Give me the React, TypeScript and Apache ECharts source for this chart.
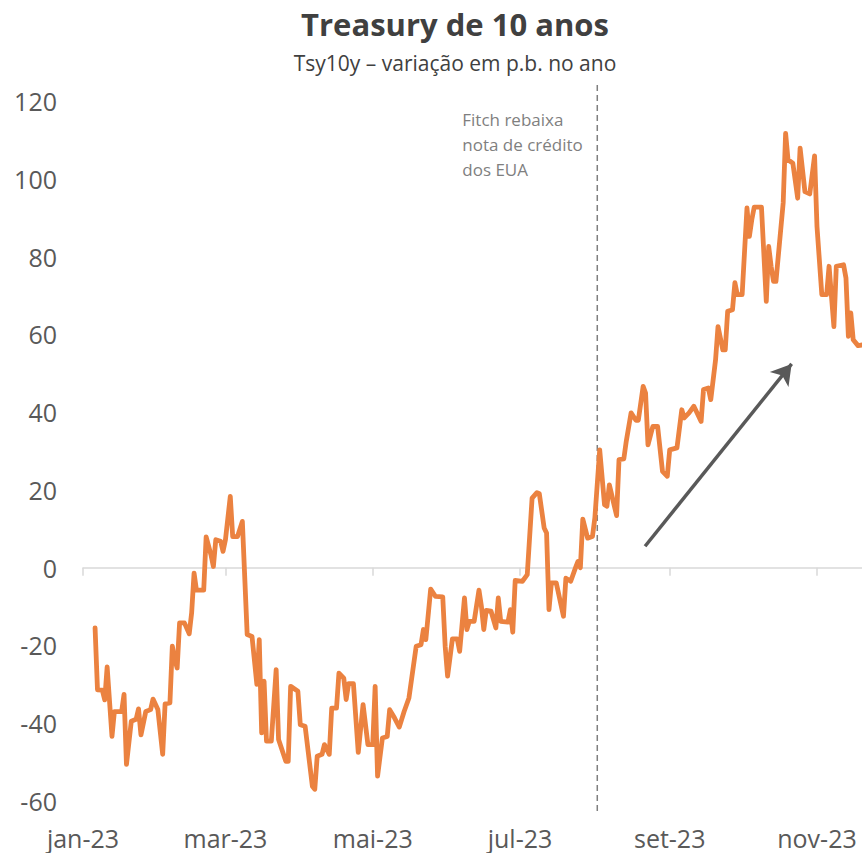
import React, { useEffect, useRef } from 'react';
import * as echarts from 'echarts';

// Tsy10y – variação acumulada no ano (p.b.)
const dates = [
  '2023-01-06', '2023-01-07', '2023-01-09', '2023-01-10', '2023-01-11', '2023-01-13', '2023-01-14', '2023-01-17',
  '2023-01-18', '2023-01-19', '2023-01-21', '2023-01-23', '2023-01-24', '2023-01-25', '2023-01-27', '2023-01-29',
  '2023-01-30', '2023-02-01', '2023-02-03', '2023-02-04', '2023-02-06', '2023-02-07', '2023-02-08', '2023-02-09',
  '2023-02-10', '2023-02-12', '2023-02-14', '2023-02-15', '2023-02-16', '2023-02-17', '2023-02-20', '2023-02-21',
  '2023-02-23', '2023-02-24', '2023-02-25', '2023-02-27', '2023-02-28', '2023-03-01', '2023-03-03', '2023-03-04',
  '2023-03-06', '2023-03-08', '2023-03-10', '2023-03-12', '2023-03-14', '2023-03-15', '2023-03-16', '2023-03-17',
  '2023-03-18', '2023-03-20', '2023-03-22', '2023-03-23', '2023-03-26', '2023-03-27', '2023-03-28', '2023-03-31',
  '2023-04-01', '2023-04-03', '2023-04-06', '2023-04-07', '2023-04-08', '2023-04-10', '2023-04-11', '2023-04-13',
  '2023-04-14', '2023-04-16', '2023-04-17', '2023-04-19', '2023-04-20', '2023-04-21', '2023-04-23', '2023-04-25',
  '2023-04-27', '2023-04-29', '2023-05-01', '2023-05-02', '2023-05-03', '2023-05-05', '2023-05-07', '2023-05-08',
  '2023-05-10', '2023-05-12', '2023-05-14', '2023-05-16', '2023-05-19', '2023-05-21', '2023-05-22', '2023-05-23',
  '2023-05-25', '2023-05-27', '2023-05-30', '2023-05-31', '2023-06-01', '2023-06-03', '2023-06-05', '2023-06-06',
  '2023-06-08', '2023-06-09', '2023-06-10', '2023-06-12', '2023-06-14', '2023-06-15', '2023-06-16', '2023-06-17',
  '2023-06-19', '2023-06-21', '2023-06-22', '2023-06-23', '2023-06-26', '2023-06-27', '2023-06-28', '2023-06-29',
  '2023-07-02', '2023-07-04', '2023-07-06', '2023-07-08', '2023-07-09', '2023-07-11', '2023-07-12', '2023-07-13',
  '2023-07-14', '2023-07-16', '2023-07-19', '2023-07-20', '2023-07-22', '2023-07-24', '2023-07-25', '2023-07-26',
  '2023-07-27', '2023-07-29', '2023-07-31', '2023-08-01', '2023-08-03', '2023-08-05', '2023-08-06', '2023-08-07',
  '2023-08-10', '2023-08-11', '2023-08-13', '2023-08-14', '2023-08-16', '2023-08-18', '2023-08-19', '2023-08-21',
  '2023-08-22', '2023-08-23', '2023-08-25', '2023-08-27', '2023-08-29', '2023-08-31', '2023-09-01', '2023-09-04',
  '2023-09-06', '2023-09-07', '2023-09-09', '2023-09-11', '2023-09-12', '2023-09-14', '2023-09-15', '2023-09-17',
  '2023-09-18', '2023-09-20', '2023-09-21', '2023-09-23', '2023-09-24', '2023-09-25', '2023-09-27', '2023-09-28',
  '2023-09-29', '2023-10-01', '2023-10-03', '2023-10-04', '2023-10-05', '2023-10-06', '2023-10-09', '2023-10-11',
  '2023-10-12', '2023-10-13', '2023-10-14', '2023-10-15', '2023-10-18', '2023-10-19', '2023-10-20', '2023-10-22',
  '2023-10-24', '2023-10-25', '2023-10-27', '2023-10-29', '2023-10-31', '2023-11-01', '2023-11-03', '2023-11-05',
  '2023-11-06', '2023-11-08', '2023-11-09', '2023-11-12', '2023-11-13', '2023-11-14', '2023-11-15', '2023-11-16',
  '2023-11-18', '2023-11-20',
];

const values = [
  -15.5, -31.4, -31.5, -34, -25.5, -43.4, -37, -37,
  -32.6, -50.6, -39.5, -39, -36.3, -43, -37, -36.5,
  -33.8, -36.5, -48, -35, -34.8, -20.2, -23.6, -25.8,
  -14.2, -14.2, -17, -11.6, -1.4, -5.8, -5.8, 7.9,
  3.3, 0.3, 7.2, 6.8, 4.2, 7.2, 18.3, 8,
  8, 11.9, -17.2, -17.7, -30, -18.5, -42.5, -29.2,
  -44.6, -44.6, -26.2, -44.2, -49.8, -49.8, -30.5, -31.8,
  -40.4, -40.8, -56.2, -57, -48.5, -48, -45.5, -48,
  -36.1, -36.1, -27.1, -28.4, -33.9, -29.8, -29.8, -47.5,
  -35.2, -45.5, -45.5, -30.5, -53.6, -43.8, -43.4, -36.5,
  -38.6, -41, -37, -33.5, -20.2, -19.8, -15.9, -18.5,
  -5.5, -7.4, -7.5, -20.2, -27.9, -18.3, -18.3, -21.5,
  -7.8, -15.9, -13.8, -13.8, -5.8, -9.9, -15.9, -11,
  -11.2, -15.5, -7.8, -13.8, -14, -10.8, -16.6, -3.3,
  -3.5, -1.8, 17.9, 19.3, 19, 10.2, 8.9, -10.8,
  -3.9, -3.9, -12.5, -2.7, -3.5, 0, 1.6, 0,
  12.5, 7.6, 8, 12.8, 30.3, 16.2, 15.8, 21.3,
  13.4, 27.8, 28, 32.5, 39.8, 37.9, 37.9, 46.6,
  44.9, 31.6, 36.3, 36.3, 24.8, 23.5, 30.3, 30.8,
  40.6, 38.5, 39.8, 41.5, 40.2, 37.6, 45.8, 46.2,
  43.2, 53.5, 62, 56, 56, 65.9, 66.3, 73.3,
  70.2, 70.2, 92.5, 85.2, 89.5, 92.7, 92.7, 68.5,
  82.6, 77.5, 73.6, 73.6, 93.8, 111.7, 104.9, 104,
  95, 107.9, 96.7, 96.1, 105.9, 87.7, 70.2, 70.2,
  77.5, 62, 77.5, 77.9, 74.5, 59.5, 65.5, 58.6,
  57.1, 57.3,
];

const tickDates = ['2023-01-01', '2023-03-01', '2023-05-01', '2023-07-01', '2023-09-01', '2023-11-01'];
const tickLabels = ['jan-23', 'mar-23', 'mai-23', 'jul-23', 'set-23', 'nov-23'];
const yMin = -60;
const yMax = 120;
const yStep = 20;

const axisStart = '2023-01-01';
const axisSpanDays = 322.64;

const titleText = 'Treasury de 10 anos';
const subtitleText = 'Tsy10y – variação em p.b. no ano';

const eventDate = '2023-08-02';
const eventLabel = ['Fitch rebaixa', 'nota de crédito', 'dos EUA'];

const arrowFrom = { date: '2023-08-21', hour: 19, value: 5.5 };
const arrowTo = { date: '2023-10-21', hour: 12, value: 52.4 };

const FONT = '"Open Sans", "Noto Sans", sans-serif';
const DAY = 86400000;

function ts(s: string, hour = 0): number {
  const [y, m, d] = s.split('-').map(Number);
  return Date.UTC(y, m - 1, d, hour);
}

export default function App() {
  const ref = useRef<HTMLDivElement>(null);

  useEffect(() => {
    if (!ref.current) return;
    const chart = echarts.init(ref.current, null, { renderer: 'svg' });
    const minT = ts(axisStart);
    const maxT = minT + axisSpanDays * DAY;
    const tickTs = tickDates.map((d) => ts(d));
    const fmt = (v: number) => {
      let best = -1;
      let bd = Infinity;
      tickTs.forEach((t, i) => {
        const dd = Math.abs(t - v);
        if (dd < bd) {
          bd = dd;
          best = i;
        }
      });
      return bd < DAY * 2 ? tickLabels[best] : '';
    };

    chart.setOption({
      animation: false,
      backgroundColor: '#ffffff',
      grid: { left: 83, right: 0, top: 101, bottom: 52 },
      xAxis: [
        {
          type: 'value',
          min: minT,
          max: maxT,
          axisLine: { show: true, onZero: true, lineStyle: { color: '#d9d9d9', width: 1.5 } },
          axisTick: { show: true, customValues: tickTs, length: 8, lineStyle: { color: '#d9d9d9', width: 1.5 } },
          axisLabel: { show: false },
          splitLine: { show: false },
        },
        {
          type: 'value',
          min: minT,
          max: maxT,
          position: 'bottom',
          axisLine: { show: false, onZero: false },
          axisTick: { show: false },
          axisLabel: {
            show: true,
            customValues: tickTs,
            formatter: (v: number) => fmt(v),
            fontSize: 25,
            color: '#595959',
            fontFamily: FONT,
            margin: 24,
            hideOverlap: false,
            showMinLabel: true,
            showMaxLabel: true,
          },
          splitLine: { show: false },
        },
      ],
      yAxis: {
        type: 'value',
        min: yMin,
        max: yMax,
        interval: yStep,
        axisLine: { show: false },
        axisTick: { show: false },
        splitLine: { show: false },
        axisLabel: { fontSize: 25, color: '#595959', fontFamily: FONT, margin: 26 },
      },
      series: [
        {
          type: 'line',
          xAxisIndex: 0,
          data: dates.map((d, i) => [ts(d), values[i]]),
          showSymbol: false,
          symbol: 'none',
          lineStyle: { color: '#EB8240', width: 4.8, join: 'round', cap: 'round' },
          z: 3,
          markLine: {
            silent: true,
            animation: false,
            symbol: ['none', 'arrow'],
            symbolSize: [18, 20],
            label: { show: false },
            lineStyle: { color: '#595959', width: 3.5, type: 'solid' },
            data: [
              [
                { coord: [ts(arrowFrom.date, arrowFrom.hour), arrowFrom.value] },
                { coord: [ts(arrowTo.date, arrowTo.hour), arrowTo.value] },
              ],
            ],
          },
        },
      ],
    });

    const xPix = chart.convertToPixel({ xAxisIndex: 0 }, ts(eventDate)) as number;
    chart.setOption({
      graphic: [
        {
          type: 'text',
          x: 455,
          y: 24,
          style: {
            text: titleText,
            align: 'center',
            verticalAlign: 'middle',
            font: `bold 31px ${FONT}`,
            fill: '#404040',
          },
        },
        {
          type: 'text',
          x: 455,
          y: 63,
          style: {
            text: subtitleText,
            align: 'center',
            verticalAlign: 'middle',
            font: `21px ${FONT}`,
            fill: '#404040',
          },
        },
        {
          type: 'line',
          shape: { x1: xPix, y1: 85, x2: xPix, y2: 815 },
          style: { stroke: '#7f7f7f', lineWidth: 1.5, lineDash: [6, 4] },
          z: 1,
        },
        {
          type: 'text',
          x: xPix - 135,
          y: 107,
          style: {
            text: eventLabel.join('\n'),
            align: 'left',
            verticalAlign: 'top',
            font: `17px ${FONT}`,
            lineHeight: 25,
            fill: '#7f7f7f',
          },
        },
      ],
    });

    return () => chart.dispose();
  }, []);

  return (
    <div
      ref={ref}
      style={{ position: 'fixed', left: 0, top: 0, width: 862, height: 853, background: '#fff' }}
    />
  );
}
